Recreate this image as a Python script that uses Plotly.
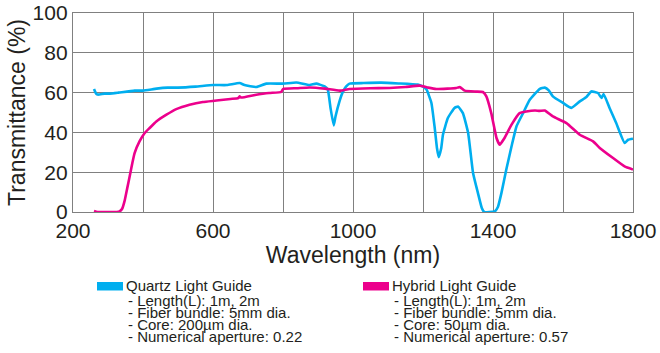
import plotly.graph_objects as go

# ---- data ----
quartz_wl = [260, 266, 271, 290, 305, 330, 376, 400, 439, 470, 500, 550, 600, 640, 676, 690,
             724, 752, 800, 838, 876, 895, 919, 928, 936, 945, 950, 962, 970, 980, 990, 1030,
             1080, 1130, 1185, 1200, 1210, 1224, 1233, 1240, 1245, 1252, 1257, 1271, 1290, 1300,
             1314, 1329, 1343, 1357, 1368, 1375, 1390, 1405, 1414, 1424, 1438, 1453, 1467, 1486, 1505,
             1533, 1548, 1560, 1571, 1600, 1624, 1648, 1667, 1681, 1700, 1710, 1716, 1733, 1752,
             1776, 1786, 1800]
quartz_t = [61.8, 59.5, 59.0, 59.5, 59.5, 60.0, 61.0, 61.0, 62.0, 62.5, 62.5, 63.0, 63.8, 63.8, 64.8, 63.8,
            62.8, 64.5, 64.5, 65.1, 63.8, 64.5, 63.1, 61.5, 52.0, 43.5, 48.0, 56.0, 60.0, 63.0, 64.5, 64.8,
            65.0, 64.6, 64.0, 63.0, 61.5, 54.8, 43.0, 32.0, 27.6, 32.0, 38.8, 47.2, 52.3, 53.0,
            49.7, 39.7, 19.6, 9.5, 2.0, 0.0, 0.0, 0.3, 2.5, 9.5, 21.3, 33.0, 43.0, 49.7, 56.4,
            61.8, 62.5, 61.0, 58.1, 54.8, 52.3, 55.6, 57.8, 60.6, 59.8, 57.3, 59.3, 52.3, 44.7,
            34.7, 36.3, 36.8]

hybrid_wl = [260, 270, 300, 325, 333, 340, 348, 355, 362, 370, 376, 390, 405, 419, 438, 467, 495,
             533, 571, 610, 650, 672, 676, 680, 720, 760, 795, 800, 840, 876, 920, 962, 990,
             1050, 1105, 1150, 1190, 1215, 1238, 1270, 1295, 1305, 1319, 1350, 1371, 1381, 1395,
             1410, 1419, 1433, 1453, 1476, 1495, 1520, 1533, 1548, 1571, 1610, 1648, 1686, 1705,
             1743, 1776, 1800]
hybrid_t = [0.5, 0.0, 0.0, 0.0, 0.3, 1.5, 6.0, 12.0, 18.0, 25.0, 29.6, 35.5, 39.7, 42.2, 45.5, 48.9, 51.7,
            53.9, 55.3, 56.0, 56.8, 57.2, 58.1, 57.5, 58.8, 59.8, 60.3, 61.8, 62.2, 62.6, 62.0, 61.0, 61.8,
            62.2, 62.3, 62.8, 63.5, 62.5, 61.8, 62.0, 62.3, 62.8, 61.0, 60.5, 60.3, 58.1, 49.7,
            37.2, 33.8, 37.2, 43.9, 49.7, 50.5, 51.0, 50.8, 51.0, 48.0, 44.7, 38.8, 35.5, 32.2,
            27.1, 22.9, 21.3]

x_ticks = [200, 600, 1000, 1400, 1800]
y_ticks = [0, 20, 40, 60, 80, 100]

series_names = ["Quartz Light Guide", "Hybrid Light Guide"]
quartz_notes = ["- Length(L): 1m, 2m", "- Fiber bundle: 5mm dia.", "- Core: 200\u00b5m dia.",
                "- Numerical aperture: 0.22"]
hybrid_notes = ["- Length(L): 1m, 2m", "- Fiber bundle: 5mm dia.", "- Core: 50\u00b5m dia.",
                "- Numerical aperture: 0.57"]

BLUE = "#00AEEF"
PINK = "#EC008C"
GRID = "#808080"
FONT = "Liberation Sans, Arial, sans-serif"
TXT = "#231F20"

W, H = 660, 353
L, R, T, B = 73, 27, 13, 141
PW, PH = W - L - R, H - T - B

fig = go.Figure()
fig.add_trace(go.Scatter(x=quartz_wl, y=quartz_t, mode="lines", name=series_names[0],
                         line=dict(color=BLUE, width=2.6, shape="spline", smoothing=0.4),
                         showlegend=False))
fig.add_trace(go.Scatter(x=hybrid_wl, y=hybrid_t, mode="lines", name=series_names[1],
                         line=dict(color=PINK, width=2.6, shape="spline", smoothing=0.4),
                         showlegend=False))

fig.update_layout(
    width=W, height=H,
    margin=dict(l=L, r=R, t=T, b=B, autoexpand=False),
    paper_bgcolor="white", plot_bgcolor="white",
    font=dict(family=FONT, color=TXT),
    xaxis=dict(range=[200, 1800], tickvals=x_ticks, ticktext=[str(v) for v in x_ticks],
               showgrid=True, gridcolor=GRID, gridwidth=1.2,
               minor=dict(dtick=200, tick0=200, showgrid=True, gridcolor=GRID, gridwidth=1.2),
               showline=True, linecolor=GRID, linewidth=1.4, mirror=True, automargin=False,
               zeroline=False, ticks="", tickfont=dict(size=21, family=FONT, color=TXT),
               title=dict(text="Wavelength (nm)", font=dict(size=23, family=FONT, color=TXT),
                          standoff=0)),
    yaxis=dict(range=[0, 100], tickvals=y_ticks, ticktext=[str(v) for v in y_ticks],
               showgrid=True, gridcolor=GRID, gridwidth=1.2,
               showline=True, linecolor=GRID, linewidth=1.4, mirror=True, automargin=False,
               zeroline=False, ticks="", tickfont=dict(size=21, family=FONT, color=TXT),
               title=dict(text="Transmittance (%)", font=dict(size=23, family=FONT, color=TXT),
                          standoff=0)),
)

# custom legend (swatches + text lines), positions given in page pixels
def px_x(p):
    return (p - L) / PW

def px_y(p):
    return (H - B - p) / PH

anns = []
shapes = []
blocks = [(97, 124, 126, BLUE, series_names[0], quartz_notes),
          (363, 390, 392, PINK, series_names[1], hybrid_notes)]
line_y = [285, 300, 312, 324, 336]
for sx, tx, nx, col, name, notes in blocks:
    shapes.append(dict(type="rect", xref="paper", yref="paper",
                       x0=px_x(sx), x1=px_x(sx + 26), y0=px_y(290.5), y1=px_y(282),
                       fillcolor=col, line=dict(width=0)))
    anns.append(dict(xref="paper", yref="paper", x=px_x(tx), y=px_y(line_y[0]),
                     xanchor="left", yanchor="middle", text=name, showarrow=False,
                     font=dict(size=15, family=FONT, color=TXT)))
    for i, n in enumerate(notes):
        anns.append(dict(xref="paper", yref="paper", x=px_x(nx), y=px_y(line_y[i + 1]),
                         xanchor="left", yanchor="middle", text=n, showarrow=False,
                         font=dict(size=15, family=FONT, color=TXT)))

fig.update_layout(annotations=anns, shapes=shapes)

# remove the default 8px body margin so the figure sits at the page's top-left corner
fig.write_html("out.html", config={"displayModeBar": False},
               post_script="document.body.style.margin='0';document.body.style.overflow='hidden';")
